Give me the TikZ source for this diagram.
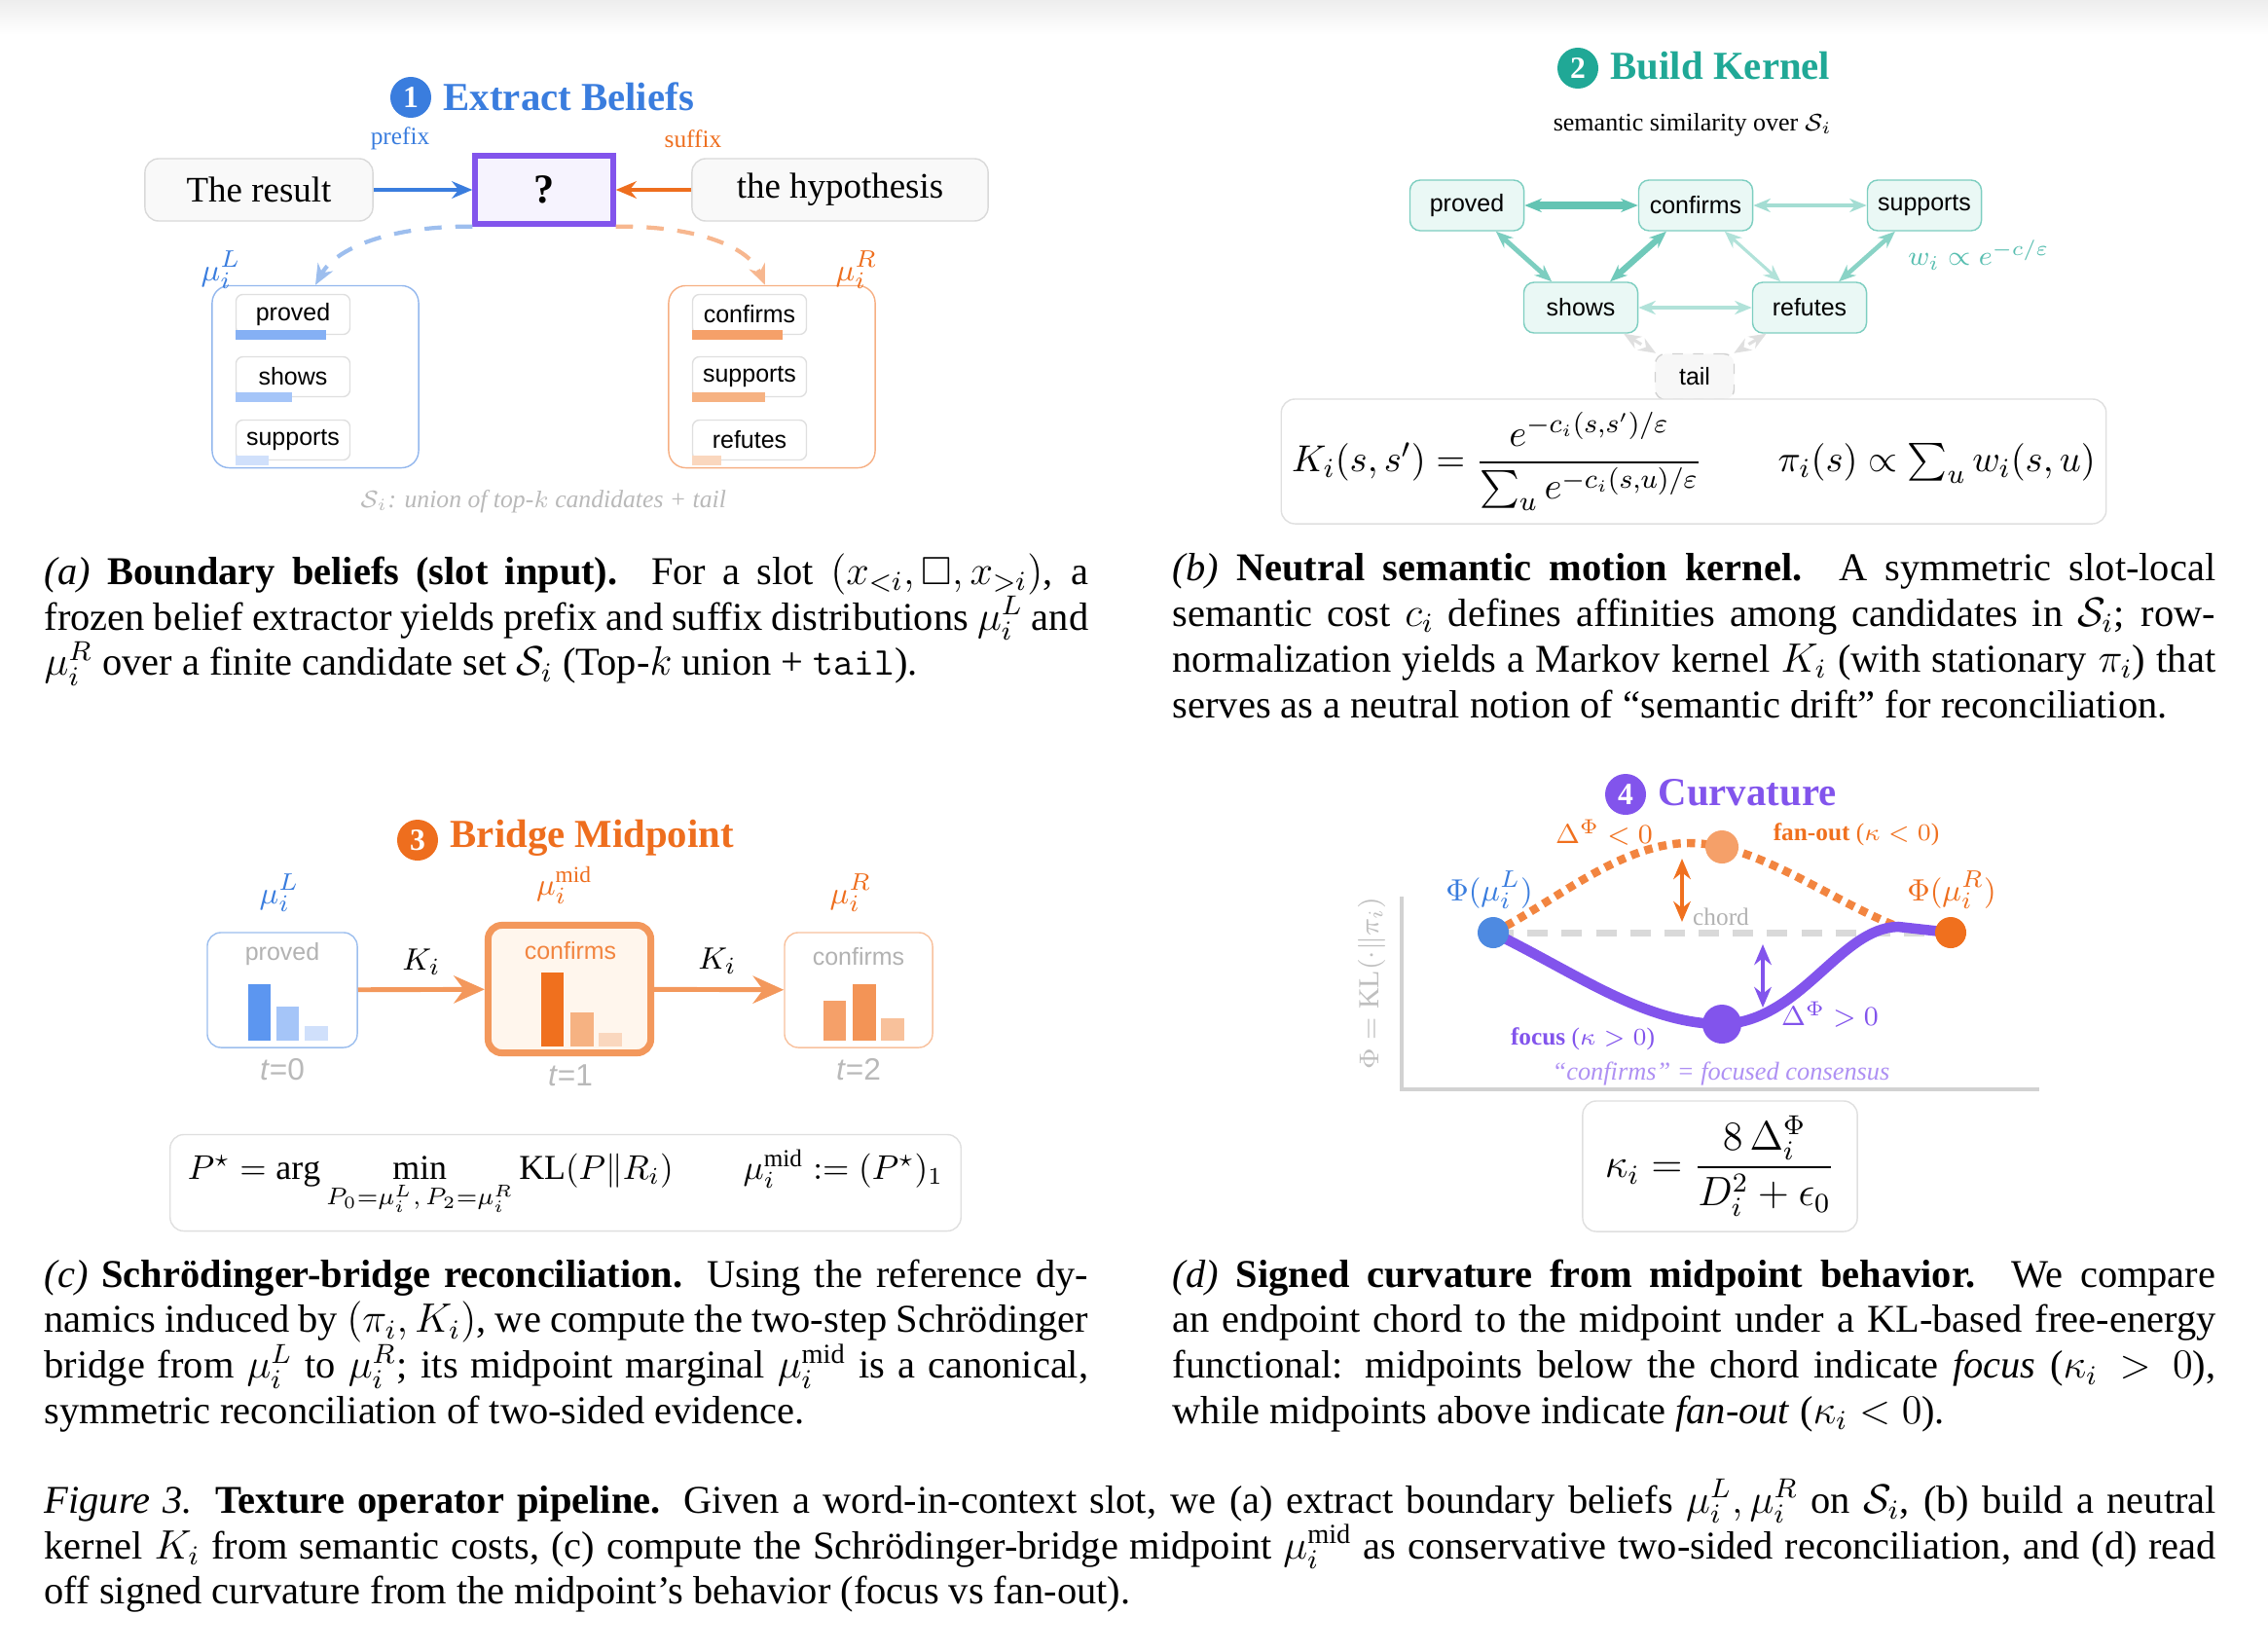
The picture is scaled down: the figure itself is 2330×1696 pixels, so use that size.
\documentclass[tikz,border=0pt]{standalone}
\usepackage{amsmath,amssymb}
\usepackage{fontspec}
\setmainfont{Liberation Serif}
\setsansfont{Liberation Sans}
\usetikzlibrary{arrows.meta,positioning}

\definecolor{pblue}{RGB}{58,125,222}
\definecolor{porange}{RGB}{238,110,30}
\definecolor{pteal}{RGB}{32,168,150}
\definecolor{ppurple}{RGB}{130,84,236}
\definecolor{tealB}{RGB}{125,206,192}
\definecolor{tealF}{RGB}{234,248,245}
\definecolor{arrC}{RGB}{243,152,92}
\definecolor{blA}{RGB}{92,150,240}
\definecolor{blB}{RGB}{165,197,248}
\definecolor{blC}{RGB}{208,224,251}
\definecolor{orA}{RGB}{240,112,30}
\definecolor{orB}{RGB}{246,178,130}
\definecolor{orC}{RGB}{250,215,190}
\definecolor{orM}{RGB}{245,160,105}

\begin{document}
\begin{tikzpicture}[x=0.01cm, y=-0.01cm, >={Stealth[length=6pt,width=5pt]},
  badge/.style={circle, fill=#1, text=white, inner sep=0pt, minimum size=0.42cm,
    font=\bfseries\fontsize{9}{9}\selectfont},
  ttl/.style={anchor=west, text=#1, inner sep=0pt, font=\bfseries\fontsize{11.6}{12}\selectfont},
  word/.style={draw=gray!30, fill=gray!5, rounded corners=4pt, minimum height=0.64cm,
    font=\fontsize{10.5}{11}\selectfont},
  cand/.style={draw=gray!25, fill=white, rounded corners=2pt, minimum width=1.17cm,
    minimum height=0.41cm, inner sep=0pt, font=\sffamily\fontsize{7.1}{8}\selectfont},
  knode/.style={draw=tealB, fill=tealF, rounded corners=3pt, minimum width=1.17cm,
    minimum height=0.52cm, inner sep=0pt, font=\sffamily\fontsize{7.1}{8}\selectfont},
  kedge/.style={<->, >={Stealth[length=5pt,width=4pt]}, draw=#1},
  fbox/.style={draw=gray!25, fill=white, rounded corners=4pt, inner sep=0pt},
  lbl/.style={inner sep=0pt, font=\fontsize{7.2}{8}\selectfont},
  mulbl/.style={inner sep=0pt, font=\fontsize{9.5}{10}\selectfont},
  tlbl/.style={inner sep=0pt, text=gray!55, font=\sffamily\fontsize{9}{10}\selectfont},
  barbox/.style={rounded corners=4pt, minimum width=#1, minimum height=1.18cm},
  phipt/.style={circle, fill=#1, inner sep=0pt},
  capt/.style={anchor=north west, inner sep=0pt, align=justify,
    font=\fontsize{11.5}{13.3}\selectfont}
]
\useasboundingbox (0,0) rectangle (2330,1696);
\fill[top color=gray!14, bottom color=white] (0,0) rectangle (2330,35);

% (a) extract beliefs
\node[badge=pblue] (t1) at (422,100) {1};
\node[ttl=pblue] (t1txt) at (455,99) {Extract Beliefs};
\node[word, minimum width=2.34cm] (res) at (266,195) {The result};
\node[draw=ppurple, line width=1.5pt, fill=ppurple!7, minimum width=1.42cm, minimum height=0.70cm,
  font=\bfseries\fontsize{12}{12}\selectfont] (slot) at (559,195) {?};
\node[word, minimum width=3.04cm] (hyp) at (863,195) {the hypothesis};
\draw[->, pblue, line width=1.3pt] (res) -- (slot);
\draw[->, porange, line width=1.3pt] (hyp) -- (slot);
\node[lbl, text=pblue] (pre) at (411,142) {prefix};
\node[lbl, text=porange] (suf) at (712,143) {suffix};

\node[draw=pblue!55, rounded corners=5pt, minimum width=2.12cm, minimum height=1.87cm] (Lbox) at (324,387) {};
\node[draw=porange!55, rounded corners=5pt, minimum width=2.12cm, minimum height=1.87cm] (Rbox) at (793,387) {};
\node[cand] (aL1) at (301,323) {proved};
\node[cand] (aL2) at (301,387) {shows};
\node[cand] (aL3) at (301,452) {supports};
\node[cand] (aR1) at (770,323) {confirms};
\node[cand] (aR2) at (770,387) {supports};
\node[cand] (aR3) at (770,452) {refutes};
\foreach \n/\w/\c in {aL1/93/blA!75, aL2/58/blB, aL3/34/blC, aR1/93/orM, aR2/75/orB, aR3/30/orC}
  \fill[\c] ([yshift=0.05cm]\n.south west) rectangle +(\w,10);

\draw[->, pblue!50, line width=1.2pt, dash pattern=on 5pt off 4pt]
  (slot.south west) .. controls (400,232) and (345,255) .. (Lbox.north);
\draw[->, porange!50, line width=1.2pt, dash pattern=on 5pt off 4pt]
  (slot.south east) .. controls (720,232) and (770,255) .. ([xshift=-0.07cm]Rbox.north);
\node[mulbl, text=pblue] (muLa) at (227,277) {$\mu_i^L$};
\node[mulbl, text=porange] (muRa) at (880,277) {$\mu_i^R$};
\node[lbl, text=gray!55, font=\itshape\fontsize{7.3}{8}\selectfont] (setS) at (558,515)
  {$\mathcal{S}_i$: union of top-$k$ candidates + tail};

% (b) build kernel
\node[badge=pteal] (t2) at (1621,70) {2};
\node[ttl=pteal] (t2txt) at (1654,68) {Build Kernel};
\node[lbl, font=\fontsize{7.4}{8}\selectfont] (sim) at (1739,128) {semantic similarity over $\mathcal{S}_i$};
\node[knode] (bproved) at (1507,211) {proved};
\node[knode] (bconf) at (1742,211) {confirms};
\node[knode] (bsupp) at (1977,211) {supports};
\node[knode] (bshows) at (1624,316) {shows};
\node[knode] (bref) at (1859,316) {refutes};
\node[draw=gray!35, dashed, fill=gray!6, rounded corners=3pt, minimum width=0.81cm, minimum height=0.47cm,
  inner sep=0pt, font=\sffamily\fontsize{7.1}{8}\selectfont] (btail) at (1741,387) {tail};
\draw[kedge=tealB!120, line width=2pt] (bproved) -- (bconf);
\draw[kedge=tealB!70, line width=1pt] (bconf) -- (bsupp);
\draw[kedge=tealB, line width=1.4pt] (bproved) -- (bshows);
\draw[kedge=tealB!110, line width=1.8pt] (bshows) -- (bconf);
\draw[kedge=tealB!60, line width=0.9pt] (bconf) -- (bref);
\draw[kedge=tealB!90, line width=1.3pt] (bsupp) -- (bref);
\draw[kedge=tealB!60, line width=0.9pt] (bshows) -- (bref);
\draw[kedge=gray!25, line width=0.9pt, dashed] (bshows) -- (btail);
\draw[kedge=gray!25, line width=0.9pt, dashed] (bref) -- (btail);
\node[lbl, text=pteal!75, font=\fontsize{8.5}{9}\selectfont] (wlbl) at (2033,262) {$w_i \propto e^{-c/\varepsilon}$};
\node[fbox, minimum width=8.47cm, minimum height=1.28cm, font=\fontsize{11}{13}\selectfont] (kform) at (1740,474)
  {$K_i(s,s') = \dfrac{e^{-c_i(s,s')/\varepsilon}}{\sum_u e^{-c_i(s,u)/\varepsilon}} \qquad \pi_i(s) \propto \textstyle\sum_u w_i(s,u)$};

% (c) bridge midpoint
\node[badge=porange] (t3) at (429,863) {3};
\node[ttl=porange] (t3txt) at (462,861) {Bridge Midpoint};
\node[barbox=1.54cm, draw=pblue!50, fill=white] (cL) at (290,1017) {};
\node[barbox=1.67cm, minimum height=1.31cm, draw=arrC, line width=2pt, fill=orange!7] (cM) at (585,1016) {};
\node[barbox=1.52cm, draw=arrC!60, fill=white] (cR) at (882,1017) {};
\node[lbl, text=gray!60, font=\sffamily\fontsize{7.1}{8}\selectfont] (cLw) at (290,980) {proved};
\node[lbl, text=orA!85, font=\sffamily\fontsize{7.1}{8}\selectfont] (cMw) at (586,977) {confirms};
\node[lbl, text=gray!60, font=\sffamily\fontsize{7.1}{8}\selectfont] (cRw) at (882,983) {confirms};
\fill[blA] (255,1011) rectangle (278,1069);
\fill[blB] (284,1034) rectangle (307,1069);
\fill[blC] (313,1054) rectangle (337,1069);
\fill[orA] (556,999) rectangle (579,1075);
\fill[orB] (586,1040) rectangle (610,1075);
\fill[orC] (615,1061) rectangle (639,1075);
\fill[orM] (846,1028) rectangle (869,1069);
\fill[arrC!90!orA] (876,1011) rectangle (900,1069);
\fill[orB!80] (905,1046) rectangle (929,1069);
\draw[->, arrC, line width=1.4pt, >={Stealth[length=9pt,width=8pt]}] (cL) -- (cM);
\draw[->, arrC, line width=1.4pt, >={Stealth[length=9pt,width=8pt]}] (cM) -- (cR);
\node[mulbl] (k1) at (433,988) {$K_i$};
\node[mulbl] (k2) at (737,987) {$K_i$};
\node[mulbl, text=pblue] (muLc) at (287,917) {$\mu_i^L$};
\node[mulbl, text=porange] (muMc) at (580,909) {$\mu_i^{\mathrm{mid}}$};
\node[mulbl, text=porange] (muRc) at (874,917) {$\mu_i^R$};
\node[tlbl] (t0) at (290,1099) {\textit{t}=0};
\node[tlbl] (t1b) at (586,1105) {\textit{t}=1};
\node[tlbl] (t2b) at (882,1099) {\textit{t}=2};
\node[fbox, minimum width=8.12cm, minimum height=0.99cm, font=\fontsize{10.2}{12}\selectfont] (cform) at (581,1215)
  {$P^\star = \arg\min\limits_{P_0=\mu_i^L,\,P_2=\mu_i^R} \mathrm{KL}(P\|R_i) \qquad \mu_i^{\mathrm{mid}} := (P^\star)_1$};

% (d) curvature
\node[badge=ppurple] (t4) at (1670,816) {4};
\node[ttl=ppurple] (t4txt) at (1703,814) {Curvature};
\coordinate (ax0) at (1440,921);
\coordinate (ax1) at (1440,1119);
\coordinate (ax2) at (2095,1119);
\draw[gray!35, line width=1pt] (ax0) -- (ax1) -- (ax2);
\node[rotate=90, text=gray!50, inner sep=0pt, font=\fontsize{8.5}{9}\selectfont] (ylab) at (1409,1010)
  {$\Phi = \mathrm{KL}(\cdot\|\pi_i)$};
\coordinate (dL) at (1534,958);
\coordinate (dR) at (2004,958);
\coordinate (dT) at (1769,870);
\coordinate (dB) at (1769,1052);
\draw[gray!30, line width=2pt, dash pattern=on 6pt off 4pt] (dL) -- (dR);
\draw[orA!85, line width=2.4pt, dash pattern=on 2.4pt off 1.8pt]
  (dL) .. controls (1595,928) and (1665,866) .. (1735,866) .. controls (1805,866) and (1880,925) .. (1950,952) -- (dR);
\draw[ppurple, line width=3pt]
  (dL) .. controls (1620,1000) and (1690,1052) .. (dB) .. controls (1850,1050) and (1890,953) .. (1950,952) -- (dR);
\node[phipt=pblue!90, minimum size=0.32cm] (pL) at (dL) {};
\node[phipt=orA, minimum size=0.32cm] (pR) at (dR) {};
\node[phipt=orM, minimum size=0.34cm] (pT) at (dT) {};
\node[phipt=ppurple, minimum size=0.40cm] (pB) at (dB) {};
\coordinate (oa1) at (1728,882);
\coordinate (oa2) at (1728,947);
\coordinate (pa1) at (1811,970);
\coordinate (pa2) at (1811,1035);
\draw[<->, orA, line width=1.2pt] (oa1) -- (oa2);
\draw[<->, ppurple, line width=1.2pt] (pa1) -- (pa2);
\node[lbl, text=gray!60] (chord) at (1768,942) {chord};
\node[mulbl, text=orA, font=\fontsize{8.5}{9}\selectfont] (dneg) at (1648,855) {$\Delta^{\Phi}<0$};
\node[lbl, text=orA] (fan) at (1907,857) {\textbf{fan-out} ($\kappa<0$)};
\node[mulbl, text=pblue] (phiL) at (1530,914) {$\Phi(\mu_i^L)$};
\node[mulbl, text=porange] (phiR) at (2005,914) {$\Phi(\mu_i^R)$};
\node[mulbl, text=ppurple, font=\fontsize{8.5}{9}\selectfont] (dpos) at (1880,1042) {$\Delta^{\Phi}>0$};
\node[lbl, text=ppurple] (foc) at (1626,1067) {\textbf{focus} ($\kappa>0$)};
\node[lbl, text=ppurple!65, font=\itshape\fontsize{7.5}{8}\selectfont] (cons) at (1768,1103)
  {``confirms'' = focused consensus};
\node[fbox, minimum width=2.82cm, minimum height=1.34cm, font=\fontsize{11.5}{13}\selectfont] (dform) at (1767,1198)
  {$\kappa_i = \dfrac{8\,\Delta_i^{\Phi}}{D_i^2+\epsilon_0}$};

% captions
\node[capt, text width=10.72cm] (capA) at (45,568)
  {\textit{(a)} \textbf{Boundary beliefs (slot input).} For a slot $(x_{<i},\square,x_{>i})$, a\linebreak{} frozen belief extractor yields prefix and suffix distributions $\mu_i^L$ and\linebreak{} $\mu_i^R$ over a finite candidate set $\mathcal{S}_i$ (Top-$k$ union + \texttt{tail}).};
\node[capt, text width=10.71cm] (capB) at (1204,568)
  {\textit{(b)} \textbf{Neutral semantic motion kernel.} A symmetric slot-local\linebreak{} semantic cost $c_i$ defines affinities among candidates in $\mathcal{S}_i$; row-\linebreak{}normalization yields a Markov kernel $K_i$ (with stationary $\pi_i$) that\linebreak{} serves as a neutral notion of ``semantic drift'' for reconciliation.};
\node[capt, text width=10.72cm] (capC) at (45,1293)
  {\textit{(c)} \textbf{Schrödinger-bridge reconciliation.} Using the reference dy-\linebreak{}namics induced by $(\pi_i,K_i)$, we compute the two-step Schrödinger\linebreak{} bridge from $\mu_i^L$ to $\mu_i^R$; its midpoint marginal $\mu_i^{\mathrm{mid}}$ is a canonical,\linebreak{} symmetric reconciliation of two-sided evidence.};
\node[capt, text width=10.71cm] (capD) at (1204,1293)
  {\textit{(d)} \textbf{Signed curvature from midpoint behavior.} We compare\linebreak{} an endpoint chord to the midpoint under a KL-based free-energy\linebreak{} functional: midpoints below the chord indicate \textit{focus} ($\kappa_i>0$),\linebreak{} while midpoints above indicate \textit{fan-out} ($\kappa_i<0$).};
\node[capt, text width=22.3cm] (capF) at (45,1519)
  {\textit{Figure 3.} \textbf{Texture operator pipeline.} Given a word-in-context slot, we (a) extract boundary beliefs $\mu_i^L,\mu_i^R$ on $\mathcal{S}_i$, (b) build a neutral\linebreak{} kernel $K_i$ from semantic costs, (c) compute the Schrödinger-bridge midpoint $\mu_i^{\mathrm{mid}}$ as conservative two-sided reconciliation, and (d) read\linebreak{} off signed curvature from the midpoint's behavior (focus vs fan-out).};
\end{tikzpicture}
\end{document}
